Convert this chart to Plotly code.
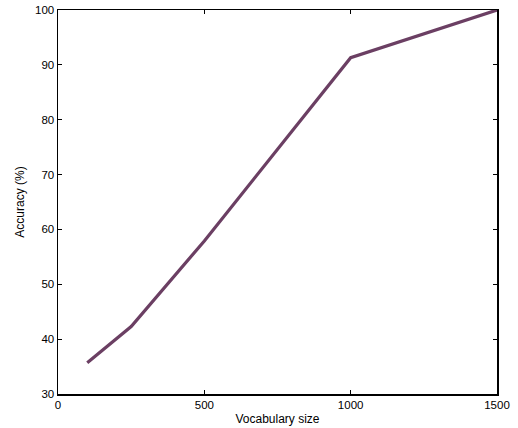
import plotly.graph_objects as go

vocab_size = [100, 250, 500, 1000, 1500]
accuracy = [35.7, 42.3, 57.9, 91.3, 100.0]

x_ticks = [0, 500, 1000, 1500]
y_ticks = [30, 40, 50, 60, 70, 80, 90, 100]

FONT = "Liberation Sans, Arial, sans-serif"

fig = go.Figure()
fig.add_trace(go.Scatter(
    x=vocab_size, y=accuracy, mode="lines",
    line=dict(color="#6b3f63", width=3.2),
    showlegend=False, cliponaxis=False, hoverinfo="skip",
))

axis_common = dict(
    showgrid=False, zeroline=False, showline=True, linecolor="black", linewidth=1.5,
    mirror="ticks", ticks="inside", ticklen=4, tickcolor="black", tickwidth=1,
    tickfont=dict(family=FONT, size=11.5, color="black"), automargin=False,
)

fig.update_layout(
    width=518, height=428,
    margin=dict(l=58, r=21, t=10, b=34),
    paper_bgcolor="white", plot_bgcolor="white",
    xaxis=dict(range=[0, 1500], tickvals=x_ticks, ticktext=[str(v) for v in x_ticks],
               title=dict(text="Vocabulary size", standoff=4,
                          font=dict(family=FONT, size=12, color="black")),
               **axis_common),
    yaxis=dict(range=[30, 100], tickvals=y_ticks, ticktext=[str(v) for v in y_ticks],
               title=dict(text="Accuracy (%)", standoff=8,
                          font=dict(family=FONT, size=12, color="black")),
               **axis_common),
)

fig.write_html("out.html", config={"displayModeBar": False, "staticPlot": True},
               post_script="document.body.style.margin='0';document.body.style.padding='0';")
